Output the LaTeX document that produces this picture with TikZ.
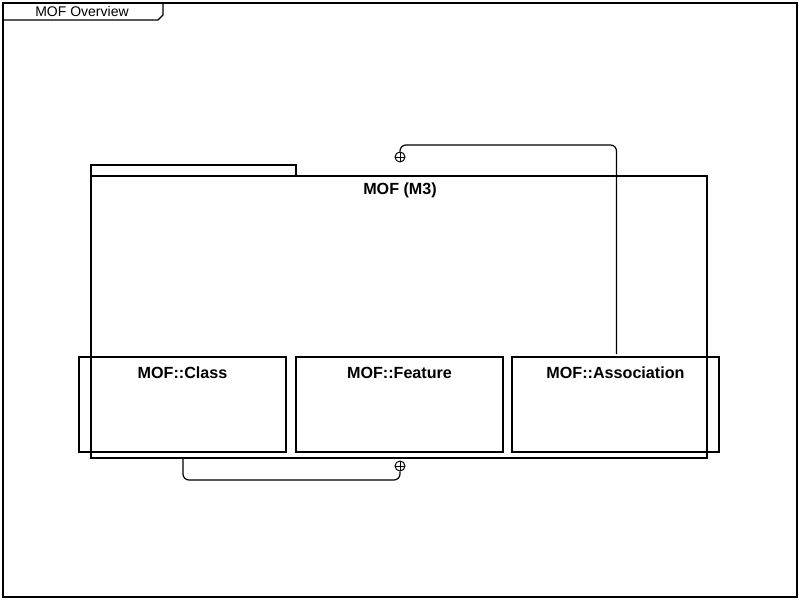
\documentclass[tikz,border=0pt]{standalone}
\usepackage{fontspec}
\setmainfont{Liberation Sans}
\begin{document}
\begin{tikzpicture}[x=0.75pt,y=-0.75pt,
  line width=0.9pt,
  framebox/.style={draw,black},
  classbox/.style={draw,black,rectangle,minimum width=155.25pt,minimum height=71.25pt,inner sep=0pt},
  pkgbody/.style={draw,black,rectangle,minimum width=462pt,minimum height=211.5pt,inner sep=0pt},
  pkgtab/.style={draw,black,rectangle,minimum width=153.75pt,minimum height=8.25pt,inner sep=0pt},
  boldlabel/.style={font=\bfseries\fontsize{12.1pt}{14pt}\selectfont,inner sep=0pt,anchor=north},
  titlelabel/.style={font=\fontsize{10.5pt}{12pt}\selectfont,inner sep=0pt},
  oplus/.style={circle,draw,black,line width=0.75pt,minimum size=7.5pt,inner sep=0pt,
    path picture={\draw[line width=0.75pt] (path picture bounding box.north) -- (path picture bounding box.south)
      (path picture bounding box.west) -- (path picture bounding box.east);}},
  conn/.style={draw,black,line width=0.9pt,rounded corners=4.5pt}]
\useasboundingbox (0,0) rectangle (800,600);

% diagram frame with its name tab
\draw[framebox] (3,3) rectangle (797,597);
\draw[framebox] (3,3) -- (163,3) -- (163,15) -- (158,20) -- (3,20);
\node[titlelabel] (frametitle) at (82,11.5) {MOF Overview};

% package MOF (M3)
\node[pkgtab] (pkgtab) at (193.5,170.5) {};
\node[pkgbody] (pkg) at (399,317) {};
\node[boldlabel] (pkgname) at (400,182.5) {MOF (M3)};

% classes
\node[classbox] (cls) at (182.5,404.5) {};
\node[boldlabel] (clsname) at ([yshift=-7.5pt]cls.north) {MOF::Class};
\node[classbox] (feat) at (399.5,404.5) {};
\node[boldlabel] (featname) at ([yshift=-7.5pt]feat.north) {MOF::Feature};
\node[classbox] (assoc) at (615.5,404.5) {};
\node[boldlabel] (assocname) at ([yshift=-7.5pt]assoc.north) {MOF::Association};

% containment markers
\node[oplus] (topplus) at (400,157) {};
\node[oplus] (botplus) at (400,466) {};
\coordinate (clsout) at (183,458);
\coordinate (assocout) at (616.5,354);

% containment connectors
\draw[conn] (assocout) -- (616.5,145) -| (topplus.north);
\draw[conn] (clsout) -- (183,480) -| (botplus.south);
\end{tikzpicture}
\end{document}
